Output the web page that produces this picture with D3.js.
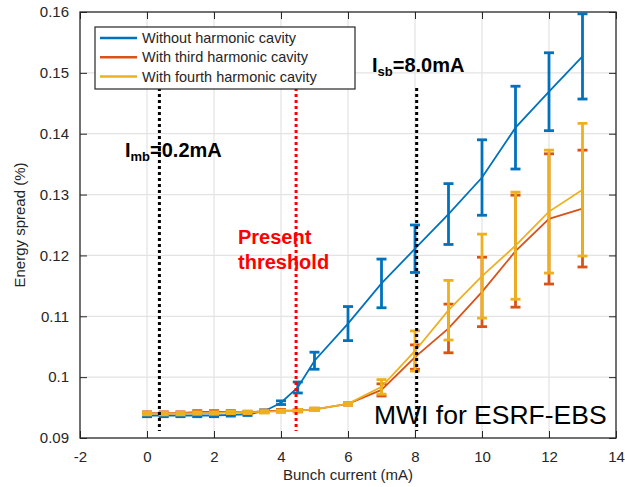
<!DOCTYPE html>
<html><head><meta charset="utf-8">
<script src="https://cdn.jsdelivr.net/npm/d3@7"></script>
<style>body{margin:0;background:#fff}svg{display:block;font-family:"Liberation Sans",Arial,sans-serif}</style>
</head><body>
<svg id="c" width="625" height="487"></svg>
<script>
// ---- data ----
const current = [0,0.5,1,1.5,2,2.5,3,3.5,4,4.5,5,6,7,8,9,10,11,12,13];
const seriesNames = ["Without harmonic cavity","With third harmonic cavity","With fourth harmonic cavity"];
const noHC   = [0.0937,0.0937,0.0937,0.0937,0.0937,0.0938,0.0939,0.0944,0.0958,0.0983,0.1027,0.1088,0.1154,0.1211,0.1268,0.1328,0.1410,0.1469,0.1527];
const noHCerr= [0.0002,0.0002,0.0002,0.0002,0.0002,0.0002,0.0002,0.0002,0.0003,0.0009,0.0014,0.0028,0.0040,0.0039,0.0050,0.0062,0.0068,0.0064,0.0070];
const third  = [0.0941,0.0941,0.0941,0.0943,0.0943,0.0943,0.0942,0.0944,0.0945,0.0945,0.0947,0.0956,0.0979,0.1033,0.1080,0.1140,0.1207,0.1260,0.1277];
const thirdErr=[0.0002,0.0002,0.0002,0.0002,0.0002,0.0002,0.0002,0.0002,0.0002,0.0002,0.0002,0.0002,0.0010,0.0020,0.0040,0.0057,0.0092,0.0107,0.0096];
const fourth = [0.0940,0.0940,0.0940,0.0941,0.0941,0.0942,0.0942,0.0943,0.0944,0.0945,0.0947,0.0956,0.0984,0.1043,0.1110,0.1166,0.1216,0.1272,0.1308];
const fourthErr=[0.0002,0.0002,0.0002,0.0002,0.0002,0.0002,0.0002,0.0002,0.0002,0.0002,0.0002,0.0002,0.0012,0.0033,0.0049,0.0069,0.0088,0.0101,0.0109];
const xTicks = [-2,0,2,4,6,8,10,12,14];
const xTickLabels = ["-2","0","2","4","6","8","10","12","14"];
const yTicks = [0.09,0.1,0.11,0.12,0.13,0.14,0.15,0.16];
const yTickLabels = ["0.09","0.1","0.11","0.12","0.13","0.14","0.15","0.16"];
const colors = ["#0072BD","#D95319","#EDB120"];
const markers = [{x:0.37,color:"#000"},{x:4.45,color:"#ff0000"},{x:8.05,color:"#000"}];

// ---- layout ----
const L=80,T=12,R=616,B=438;
const svg=d3.select("#c");
const x=d3.scaleLinear().domain([-2,14]).range([L,R]);
const y=d3.scaleLinear().domain([0.09,0.16]).range([B,T]);
const ink="#262626";

// grid
svg.append("g").selectAll("line").data(xTicks.slice(1,-1)).join("line")
  .attr("x1",d=>x(d)).attr("x2",d=>x(d)).attr("y1",T).attr("y2",B)
  .attr("stroke","#e3e3e3").attr("stroke-width",1.2);
svg.append("g").selectAll("line").data(yTicks.slice(1,-1)).join("line")
  .attr("y1",d=>y(d)).attr("y2",d=>y(d)).attr("x1",L).attr("x2",R)
  .attr("stroke","#e3e3e3").attr("stroke-width",1.2);

// axes with inward ticks
const ax=d3.axisBottom(x).tickValues(xTicks).tickSize(-7).tickPadding(13).tickFormat((d,i)=>xTickLabels[i]);
const gx=svg.append("g").attr("transform",`translate(0,${B})`).call(ax);
const axT=d3.axisTop(x).tickValues(xTicks).tickSize(-7).tickFormat("");
const gxt=svg.append("g").attr("transform",`translate(0,${T})`).call(axT);
const ay=d3.axisLeft(y).tickValues(yTicks).tickSize(-7).tickPadding(11).tickFormat((d,i)=>yTickLabels[i]);
const gy=svg.append("g").attr("transform",`translate(${L},0)`).call(ay);
const ayR=d3.axisRight(y).tickValues(yTicks).tickSize(-7).tickFormat("");
const gyr=svg.append("g").attr("transform",`translate(${R},0)`).call(ayR);
[gx,gxt,gy,gyr].forEach(g=>{
  g.select(".domain").remove();
  g.selectAll(".tick line").attr("stroke",ink).attr("stroke-width",1);
  g.selectAll("text").attr("fill",ink).attr("font-size",15).attr("font-family","Liberation Sans, Arial, sans-serif");
});
svg.append("rect").attr("x",L).attr("y",T).attr("width",R-L).attr("height",B-T)
  .attr("fill","none").attr("stroke",ink).attr("stroke-width",1.3);

// axis labels
svg.append("text").attr("x",(L+R)/2).attr("y",480).attr("text-anchor","middle")
  .attr("font-size",15).attr("fill",ink).text("Bunch current (mA)");
svg.append("text").attr("transform","translate(25,225) rotate(-90)").attr("text-anchor","middle")
  .attr("font-size",15).attr("fill",ink).text("Energy spread (%)");

// series
const allSeries=[[noHC,noHCerr],[third,thirdErr],[fourth,fourthErr]];
const line=d3.line().x((d,i)=>x(current[i])).y(d=>y(d));
allSeries.forEach(([vals,errs],k)=>{
  const g=svg.append("g");
  g.append("path").datum(vals).attr("d",line).attr("fill","none")
    .attr("stroke",colors[k]).attr("stroke-width",1.8);
  const eb=g.selectAll("g.eb").data(vals).join("g");
  eb.append("line").attr("x1",(d,i)=>x(current[i])).attr("x2",(d,i)=>x(current[i]))
    .attr("y1",(d,i)=>y(d-errs[i])).attr("y2",(d,i)=>y(d+errs[i]))
    .attr("stroke",colors[k]).attr("stroke-width",2.8);
  [-1,1].forEach(s=>{
    eb.append("line").attr("x1",(d,i)=>x(current[i])-5).attr("x2",(d,i)=>x(current[i])+5)
      .attr("y1",(d,i)=>y(d+s*errs[i])).attr("y2",(d,i)=>y(d+s*errs[i]))
      .attr("stroke",colors[k]).attr("stroke-width",2.8);
  });
});

// annotations text
const t1=svg.append("text").attr("x",125).attr("y",157).attr("font-size",20).attr("font-weight","bold").attr("fill","#000");
t1.append("tspan").text("I");
t1.append("tspan").attr("font-size",13).attr("dy",4).text("mb");
t1.append("tspan").attr("dy",-4).text("=0.2mA");
const t2=svg.append("text").attr("x",372).attr("y",72).attr("font-size",20).attr("font-weight","bold").attr("fill","#000");
t2.append("tspan").text("I");
t2.append("tspan").attr("font-size",13).attr("dy",4).text("sb");
t2.append("tspan").attr("dy",-4).text("=8.0mA");
svg.append("text").attr("x",238).attr("y",244).attr("font-size",20).attr("font-weight","bold").attr("fill","#ff0000").text("Present");
svg.append("text").attr("x",238).attr("y",269).attr("font-size",20).attr("font-weight","bold").attr("fill","#ff0000").text("threshold");
svg.append("text").attr("x",374).attr("y",424).attr("font-size",26.5).attr("fill","#000").text("MWI for ESRF-EBS");

// dotted marker lines
svg.append("g").selectAll("line").data(markers).join("line")
  .attr("x1",d=>x(d.x)).attr("x2",d=>x(d.x)).attr("y1",88).attr("y2",431)
  .attr("stroke",d=>d.color).attr("stroke-width",3).attr("stroke-dasharray","3,3");

// legend
const lg=svg.append("g");
lg.append("rect").attr("x",95).attr("y",27).attr("width",260).attr("height",62)
  .attr("fill","#fff").attr("stroke",ink).attr("stroke-width",1.2);
seriesNames.forEach((n,i)=>{
  const yy=38+i*19.3;
  lg.append("line").attr("x1",100).attr("x2",137).attr("y1",yy).attr("y2",yy)
    .attr("stroke",colors[i]).attr("stroke-width",2.5);
  lg.append("text").attr("x",142).attr("y",yy+5).attr("font-size",14.5).attr("fill",ink).text(n);
});
</script>
</body></html>
